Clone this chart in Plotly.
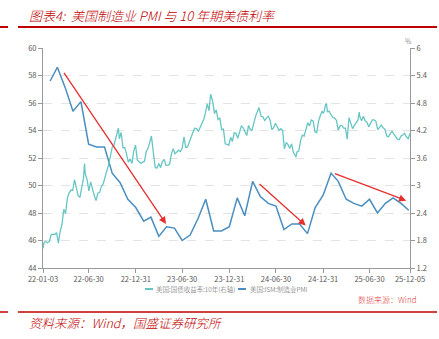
import plotly.graph_objects as go

# ISM manufacturing PMI, month-end readings
pmi_dates = [
    "2022-01-31", "2022-02-28", "2022-03-31", "2022-04-30", "2022-05-31", "2022-06-30",
    "2022-07-31", "2022-08-31", "2022-09-30", "2022-10-31", "2022-11-30", "2022-12-31",
    "2023-01-31", "2023-02-28", "2023-03-31", "2023-04-30", "2023-05-31", "2023-06-30",
    "2023-07-31", "2023-08-31", "2023-09-30", "2023-10-31", "2023-11-30", "2023-12-31",
    "2024-01-31", "2024-02-29", "2024-03-31", "2024-04-30", "2024-05-31", "2024-06-30",
    "2024-07-31", "2024-08-31", "2024-09-30", "2024-10-31", "2024-11-30", "2024-12-31",
    "2025-01-31", "2025-02-28", "2025-03-31", "2025-04-30", "2025-05-31", "2025-06-30",
    "2025-07-31", "2025-08-31", "2025-09-30", "2025-10-31", "2025-11-30",
]
pmi_values = [
    57.6, 58.6, 57.1, 55.4, 56.1, 53.0, 52.8, 52.8, 50.9, 50.2, 49.0, 48.4,
    47.4, 47.7, 46.3, 47.0, 46.9, 46.0, 46.4, 47.6, 49.0, 46.7, 46.7, 47.0,
    49.1, 47.8, 50.3, 49.2, 48.7, 48.5, 46.8, 47.2, 47.2, 46.5, 48.4, 49.3,
    50.9, 50.3, 49.0, 48.7, 48.5, 49.0, 48.0, 48.7, 49.1, 48.7, 48.2,
]

# US 10Y Treasury yield (%), weekly closes plus notable daily extremes
yield_dates = [
    "2022-01-03", "2022-01-07", "2022-01-14", "2022-01-21", "2022-01-28",
    "2022-02-04", "2022-02-11", "2022-02-18", "2022-02-25",
    "2022-03-04", "2022-03-11", "2022-03-18", "2022-03-25",
    "2022-04-01", "2022-04-08", "2022-04-14", "2022-04-22", "2022-04-29",
    "2022-05-06", "2022-05-13", "2022-05-20", "2022-05-27",
    "2022-06-03", "2022-06-10", "2022-06-14", "2022-06-17", "2022-06-24",
    "2022-07-01", "2022-07-08", "2022-07-15", "2022-07-22", "2022-07-29",
    "2022-08-05", "2022-08-12", "2022-08-19", "2022-08-26",
    "2022-09-02", "2022-09-09", "2022-09-16", "2022-09-23", "2022-09-30",
    "2022-10-07", "2022-10-14", "2022-10-21", "2022-10-24", "2022-10-28",
    "2022-11-04", "2022-11-11", "2022-11-18", "2022-11-25",
    "2022-12-02", "2022-12-09", "2022-12-16", "2022-12-23", "2022-12-30",
    "2023-01-06", "2023-01-13", "2023-01-20", "2023-01-27",
    "2023-02-03", "2023-02-10", "2023-02-17", "2023-02-24",
    "2023-03-02", "2023-03-10", "2023-03-17", "2023-03-24", "2023-03-31",
    "2023-04-07", "2023-04-14", "2023-04-21", "2023-04-28",
    "2023-05-05", "2023-05-12", "2023-05-19", "2023-05-26",
    "2023-06-02", "2023-06-09", "2023-06-16", "2023-06-23", "2023-06-30",
    "2023-07-07", "2023-07-14", "2023-07-21", "2023-07-28",
    "2023-08-04", "2023-08-11", "2023-08-18", "2023-08-25",
    "2023-09-01", "2023-09-08", "2023-09-15", "2023-09-22", "2023-09-29",
    "2023-10-06", "2023-10-13", "2023-10-19", "2023-10-27",
    "2023-11-03", "2023-11-10", "2023-11-17", "2023-11-24",
    "2023-12-01", "2023-12-08", "2023-12-15", "2023-12-22", "2023-12-29",
    "2024-01-05", "2024-01-12", "2024-01-19", "2024-01-26",
    "2024-02-02", "2024-02-09", "2024-02-16", "2024-02-23",
    "2024-03-01", "2024-03-08", "2024-03-15", "2024-03-22", "2024-03-28",
    "2024-04-05", "2024-04-12", "2024-04-19", "2024-04-25", "2024-04-26",
    "2024-05-03", "2024-05-10", "2024-05-17", "2024-05-24", "2024-05-31",
    "2024-06-07", "2024-06-14", "2024-06-21", "2024-06-28",
    "2024-07-05", "2024-07-12", "2024-07-19", "2024-07-26",
    "2024-08-02", "2024-08-09", "2024-08-16", "2024-08-23", "2024-08-30",
    "2024-09-06", "2024-09-13", "2024-09-16", "2024-09-20", "2024-09-27",
    "2024-10-04", "2024-10-11", "2024-10-18", "2024-10-25",
    "2024-11-01", "2024-11-08", "2024-11-15", "2024-11-22", "2024-11-29",
    "2024-12-06", "2024-12-13", "2024-12-20", "2024-12-27", "2024-12-31",
    "2025-01-03", "2025-01-10", "2025-01-13", "2025-01-17", "2025-01-24", "2025-01-31",
    "2025-02-07", "2025-02-14", "2025-02-21", "2025-02-28",
    "2025-03-07", "2025-03-14", "2025-03-21", "2025-03-28",
    "2025-04-04", "2025-04-11", "2025-04-18", "2025-04-25",
    "2025-05-02", "2025-05-09", "2025-05-16", "2025-05-21", "2025-05-23", "2025-05-30",
    "2025-06-06", "2025-06-13", "2025-06-20", "2025-06-27",
    "2025-07-03", "2025-07-11", "2025-07-18", "2025-07-25",
    "2025-08-01", "2025-08-08", "2025-08-15", "2025-08-22", "2025-08-29",
    "2025-09-05", "2025-09-12", "2025-09-19", "2025-09-26",
    "2025-10-03", "2025-10-10", "2025-10-17", "2025-10-24", "2025-10-31",
    "2025-11-07", "2025-11-14", "2025-11-21", "2025-11-28",
    "2025-12-05",
]
yield_values = [
    1.63, 1.76, 1.78, 1.75, 1.78,
    1.93, 1.94, 1.93, 1.97,
    1.74, 2.00, 2.15, 2.48,
    2.39, 2.72, 2.83, 2.90, 2.89,
    3.13, 2.93, 2.78, 2.74,
    2.94, 3.16, 3.48, 3.25, 3.13,
    2.88, 3.08, 2.92, 2.78, 2.67,
    2.83, 2.85, 2.98, 3.04,
    3.20, 3.32, 3.45, 3.69, 3.83,
    3.88, 4.02, 4.21, 4.25, 4.02,
    4.16, 3.82, 3.83, 3.68,
    3.51, 3.58, 3.48, 3.75, 3.88,
    3.56, 3.51, 3.48, 3.51,
    3.53, 3.74, 3.82, 3.95,
    4.08, 3.70, 3.39, 3.38, 3.48,
    3.39, 3.52, 3.57, 3.44,
    3.44, 3.46, 3.69, 3.80,
    3.69, 3.74, 3.77, 3.74, 3.81,
    4.06, 3.83, 3.84, 3.96,
    4.03, 4.16, 4.25, 4.24,
    4.18, 4.26, 4.33, 4.44, 4.59,
    4.78, 4.63, 4.99, 4.84,
    4.57, 4.65, 4.44, 4.47,
    4.22, 4.23, 3.91, 3.90, 3.88,
    4.05, 3.96, 4.15, 4.14,
    4.03, 4.18, 4.30, 4.26,
    4.19, 4.09, 4.31, 4.22, 4.20,
    4.39, 4.52, 4.62, 4.70, 4.67,
    4.51, 4.50, 4.42, 4.47, 4.51,
    4.43, 4.22, 4.26, 4.36,
    4.28, 4.20, 4.24, 4.20,
    3.80, 3.94, 3.89, 3.81, 3.91,
    3.72, 3.66, 3.62, 3.73, 3.75,
    3.98, 4.10, 4.08, 4.24,
    4.37, 4.30, 4.43, 4.41, 4.17,
    4.15, 4.40, 4.52, 4.62, 4.58,
    4.60, 4.77, 4.79, 4.61, 4.62, 4.54,
    4.49, 4.47, 4.42, 4.21,
    4.30, 4.31, 4.25, 4.25,
    4.01, 4.48, 4.33, 4.24,
    4.31, 4.38, 4.43, 4.60, 4.51, 4.41,
    4.51, 4.41, 4.38, 4.28,
    4.35, 4.43, 4.43, 4.40,
    4.22, 4.28, 4.32, 4.26, 4.23,
    4.08, 4.06, 4.13, 4.18,
    4.12, 4.05, 4.01, 4.00, 4.08,
    4.10, 4.14, 4.06, 4.02,
    4.14,
]

# Axis ticks
x_tick_dates = ["2022-01-03", "2022-06-30", "2022-12-31", "2023-06-30", "2023-12-31",
                "2024-06-30", "2024-12-31", "2025-06-30", "2025-12-05"]
x_tick_labels = ["22-01-03", "22-06-30", "22-12-31", "23-06-30", "23-12-31",
                 "24-06-30", "24-12-31", "25-06-30", "25-12-05"]
left_ticks = [44, 46, 48, 50, 52, 54, 56, 58, 60]
right_ticks = [1.2, 1.8, 2.4, 3.0, 3.6, 4.2, 4.8, 5.4, 6.0]
right_tick_labels = ["1.2", "1.8", "2.4", "3", "3.6", "4.2", "4.8", "5.4", "6"]

# Trend arrows on the PMI axis: (start date, start PMI, end date, end PMI)
arrow_starts_x = ["2022-03-22", "2024-04-21", "2025-02-09"]
arrow_starts_y = [58.3, 50.2, 50.9]
arrow_ends_x = ["2023-04-28", "2024-10-24", "2025-11-20"]
arrow_ends_y = [47.2, 47.1, 48.9]

YIELD_NAME = "美国:国债收益率:10年(右轴)"
PMI_NAME = "美国:ISM:制造业PMI"

TEAL = "#66c6c4"
BLUE = "#4a8dc0"
RED = "#c00000"
ARROW_RED = "#e53030"
GREY = "#595959"
FONT = "Noto Sans CJK SC"

W, H = 439, 339
ML, MR, MT, MB = 43, 29, 48, 71


def px_x(p):
    """Pixel column -> paper x."""
    return (p - ML) / (W - ML - MR)


def px_y(p):
    """Pixel row -> paper y."""
    return 1 - (p - MT) / (H - MT - MB)


fig = go.Figure()
fig.add_trace(go.Scatter(
    x=yield_dates, y=yield_values, yaxis="y2", mode="lines",
    name=YIELD_NAME, line=dict(color=TEAL, width=1.3),
))
fig.add_trace(go.Scatter(
    x=pmi_dates, y=pmi_values, yaxis="y", mode="lines",
    name=PMI_NAME, line=dict(color=BLUE, width=1.5),
))

annotations = []
for sx, sy, ex, ey in zip(arrow_starts_x, arrow_starts_y, arrow_ends_x, arrow_ends_y):
    annotations.append(dict(
        x=ex, y=ey, ax=sx, ay=sy, xref="x", yref="y", axref="x", ayref="y",
        showarrow=True, arrowhead=2, arrowsize=1.1, arrowwidth=1.3,
        arrowcolor=ARROW_RED, text="",
    ))


def label(text, x, y, size, color, anchor="left", italic=False):
    return dict(
        text=f"<i>{text}</i>" if italic else text,
        x=px_x(x), y=px_y(y), xref="paper", yref="paper", showarrow=False,
        xanchor=anchor, yanchor="middle", borderpad=0,
        font=dict(family=FONT, size=size, color=color, weight=300),
    )


annotations += [
    label("图表4:  美国制造业 PMI 与 10 年期美债利率", 28, 15, 13, RED, italic=True),
    label("资料来源：Wind，国盛证券研究所", 28, 322, 12.5, RED, italic=True),
    label("数据来源：Wind", 418, 299, 8, "#e04040", anchor="right"),
    label("%", 408, 41, 7, GREY, anchor="center"),
    # legend entries
    label(YIELD_NAME, 155, 289, 6.5, GREY),
    label(PMI_NAME, 249, 289, 6.5, GREY),
]

hline = lambda x0, x1, y, color, width: dict(
    type="line", xref="paper", yref="paper",
    x0=px_x(x0), x1=px_x(x1), y0=px_y(y), y1=px_y(y),
    line=dict(color=color, width=width),
)

shapes = [
    hline(0, 8, 27, RED, 2),
    hline(18, 437, 27, RED, 2),
    hline(0, 8, 312, RED, 1.5),
    hline(18, 437, 312, RED, 1.5),
    # legend swatches
    hline(145, 153, 289, TEAL, 2),
    hline(238, 246, 289, BLUE, 2),
]

axis_common = dict(
    showline=True, linecolor="#999999", linewidth=1,
    ticks="outside", ticklen=4, tickcolor="#999999",
    tickfont=dict(size=7.5, color=GREY), zeroline=False,
)

fig.update_layout(
    width=W, height=H,
    margin=dict(l=ML, r=MR, t=MT, b=MB, pad=0),
    paper_bgcolor="white", plot_bgcolor="white",
    font=dict(family=FONT, size=8, color=GREY),
    showlegend=False,
    xaxis=dict(
        type="date", range=["2022-01-03", "2025-12-05"],
        tickvals=x_tick_dates, ticktext=x_tick_labels, tickangle=0,
        showgrid=False, **axis_common,
    ),
    yaxis=dict(
        range=[44, 60], tickvals=left_ticks,
        showgrid=True, gridcolor="#e3e3e3", griddash="dash", gridwidth=1,
        **axis_common,
    ),
    yaxis2=dict(
        range=[1.2, 6.0], tickvals=right_ticks, ticktext=right_tick_labels,
        overlaying="y", side="right", showgrid=False, **axis_common,
    ),
    annotations=annotations,
    shapes=shapes,
)

fig.write_html("out.html", config=dict(displayModeBar=False))
